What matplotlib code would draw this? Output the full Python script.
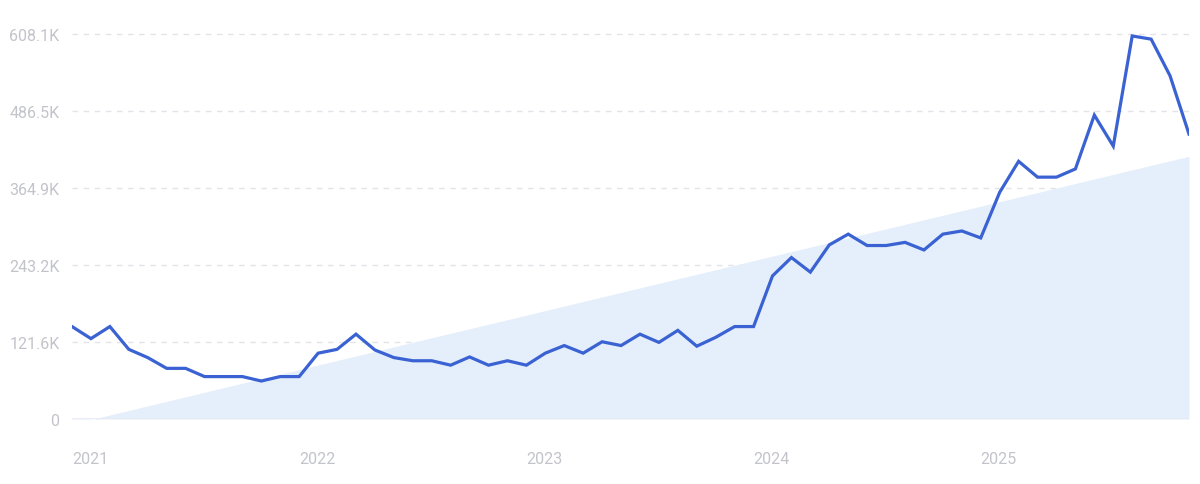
import matplotlib
matplotlib.use("Agg")
import matplotlib.pyplot as plt
import numpy as np
import pandas as pd

# ---- data ----
months = pd.date_range("2021-01-01", periods=60, freq="MS")
volume_k = [146, 127, 146, 110, 97, 80, 80, 67, 67, 67, 60, 67,
            67, 104, 110, 134, 109, 97, 92, 92, 85, 98, 85, 92,
            85, 104, 116, 104, 122, 116, 134, 121, 140, 115, 129, 146,
            146, 226, 255, 232, 275, 292, 274, 274, 279, 267, 292, 297,
            286, 358, 407, 382, 382, 395, 480, 431, 605, 600, 542, 450]
trend_k = [-8, 415]          # trend line at first and last month
ytick_vals = [0, 121.62, 243.24, 364.86, 486.48, 608.1]
ytick_labels = ["0", "121.6K", "243.2K", "364.9K", "486.5K", "608.1K"]
year_labels = ["2021", "2022", "2023", "2024", "2025"]

# ---- plot ----
plt.rcParams["font.family"] = ["Roboto", "DejaVu Sans"]
W, H = 1200, 485
fig = plt.figure(figsize=(W / 100, H / 100), dpi=100)
ax = fig.add_axes([72 / W, 1 - 420 / H, (1189 - 72) / W, (420 - 30) / H])

x = np.arange(len(months))
trend_x = [x[0], x[-1]]
ax.fill_between(trend_x, 0, trend_k, color="#e5effb", linewidth=0, zorder=1)

ax.plot(x, volume_k, color="#3a62d3", linewidth=2.3, solid_joinstyle="miter",
        zorder=3)

ax.set_xlim(x[0], x[-1])
ax.set_ylim(0, 616)

ax.set_yticks(ytick_vals)
ax.set_yticklabels(ytick_labels)
for v in ytick_vals[1:]:
    ax.axhline(v, color="#e3e4ea", linewidth=1, linestyle=(0, (4, 4)), zorder=0)
ax.axhline(0, color="#e6e8f2", linewidth=1.2, zorder=2)

jan_idx = [i for i, m in enumerate(months) if m.month == 1]
ax.set_xticks(jan_idx)
ax.set_xticklabels(year_labels)
for lbl in ax.get_xticklabels():
    lbl.set_horizontalalignment("left")

ax.tick_params(axis="both", length=0, labelcolor="#c3c4cb", labelsize=11.5)
ax.tick_params(axis="x", pad=23)
ax.tick_params(axis="y", pad=9)
for s in ax.spines.values():
    s.set_visible(False)

fig.savefig("out.png", dpi=100, facecolor="white")
